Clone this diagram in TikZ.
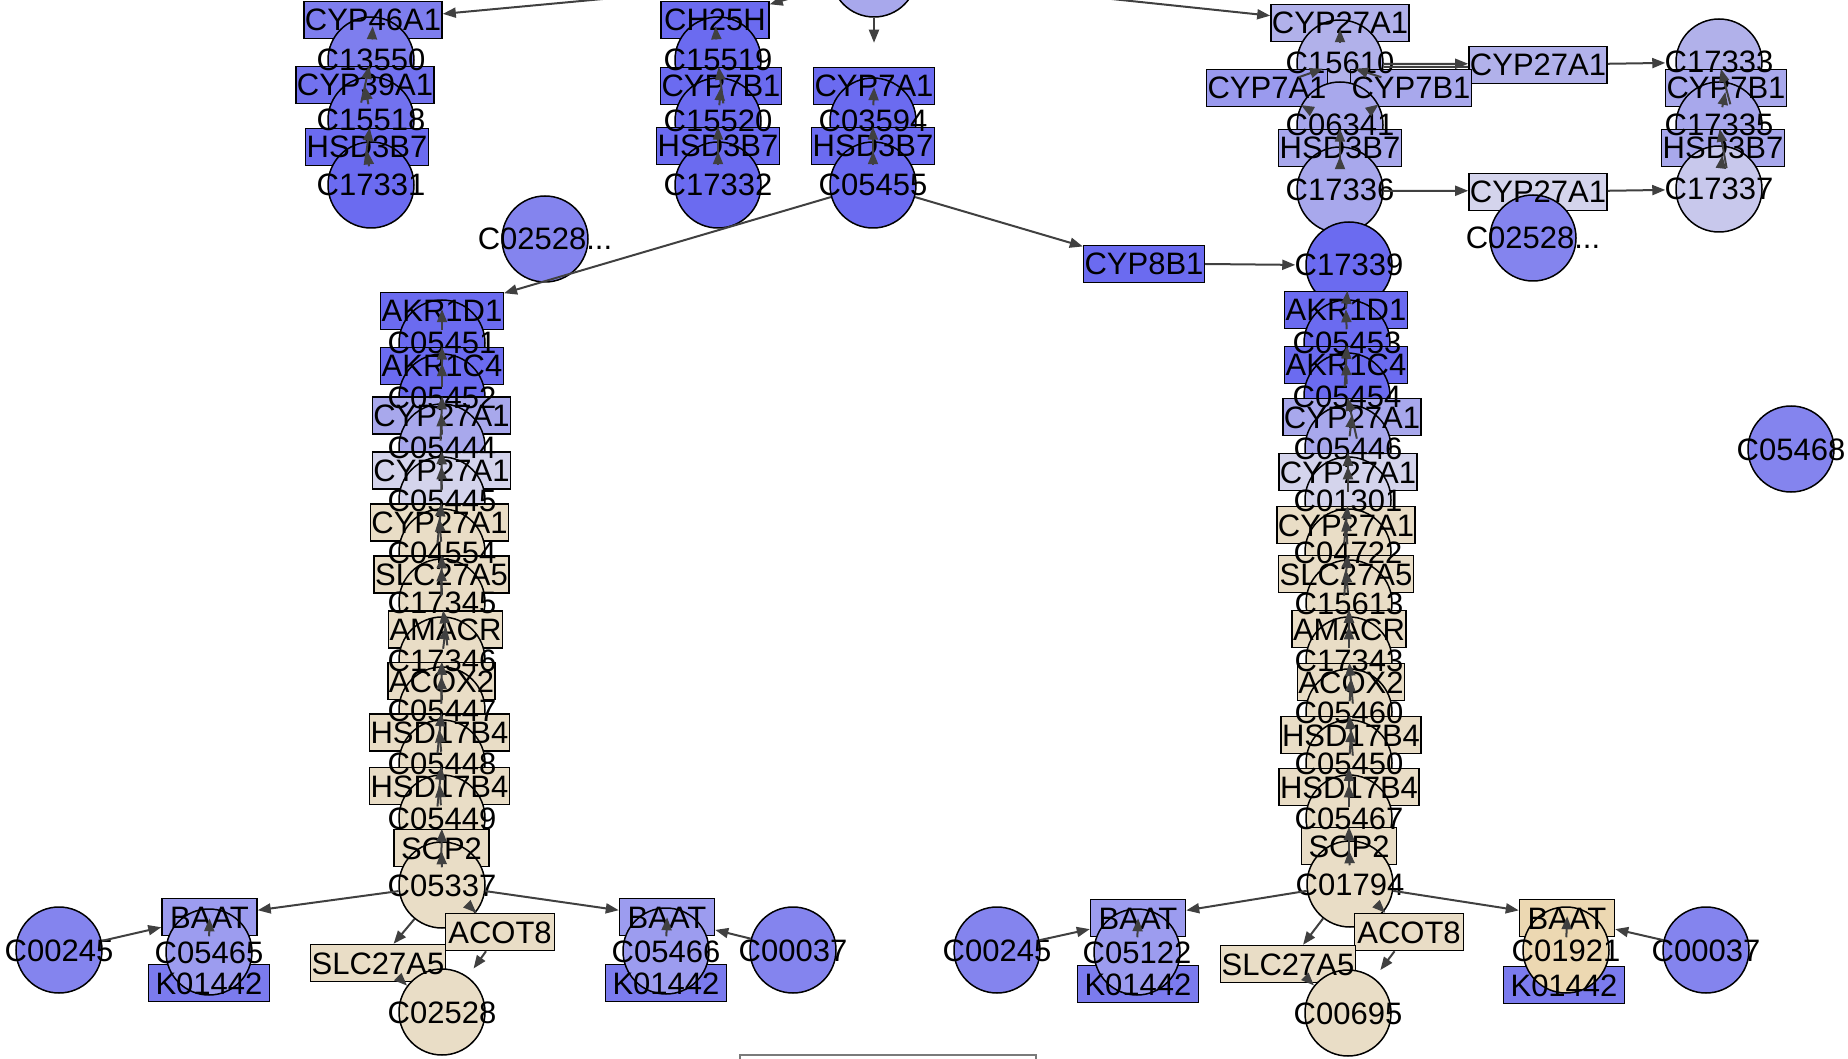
\documentclass[tikz,border=0pt]{standalone}
\usepackage{fontspec}
\setmainfont{Liberation Sans}
\usetikzlibrary{arrows.meta}
\pgfdeclarelayer{shapes}
\pgfdeclarelayer{edges}
\pgfsetlayers{shapes,main,edges}
\definecolor{bA}{HTML}{6B6BF0}
\definecolor{bB}{HTML}{7272EF}
\definecolor{bC}{HTML}{7E7EEE}
\definecolor{bM}{HTML}{8484EE}
\definecolor{bK}{HTML}{7B7BEE}
\definecolor{bT}{HTML}{9C9CEF}
\definecolor{lvA}{HTML}{A8A8EC}
\definecolor{lvB}{HTML}{B1B1EA}
\definecolor{lvC}{HTML}{C8C8EC}
\definecolor{lvD}{HTML}{D4D4EC}
\definecolor{lvE}{HTML}{9A9AEE}
\definecolor{beig}{HTML}{E9DDC6}
\definecolor{beigO}{HTML}{ECD8B2}
\definecolor{edgecol}{HTML}{404040}
\definecolor{legendgray}{HTML}{7A7A7A}
\tikzset{
  every node/.style={font=\fontsize{31pt}{31pt}\selectfont},
  gene/.style={draw=black, line width=1.5pt, rectangle, minimum height=37pt, inner xsep=1pt, inner ysep=0pt, text height=22pt, text depth=0pt},
  cpd/.style={draw=black, line width=1.5pt, circle, minimum size=86pt, inner sep=0pt},
  lbl/.style={inner sep=0pt, text height=22pt, text depth=0pt},
  arr/.style={draw=edgecol, line width=2pt, -{Triangle[length=13pt,width=10pt]}},
  tocpd/.style={arr, shorten >=10pt},
  plainedge/.style={draw=edgecol, line width=2pt},
}
\newcommand\geneNode[6][0pt]{%
  \begin{pgfonlayer}{shapes}\node[gene,fill=#5,minimum width=#1] (#2) at (#3,#4) {\phantom{#6}};\end{pgfonlayer}%
  \node[lbl] (#2-t) at (#3,#4) {#6};}
\newcommand\cpdNode[5]{%
  \begin{pgfonlayer}{shapes}\node[cpd,fill=#4] (#1) at (#2,#3) {};\end{pgfonlayer}%
  \node[lbl] (#1-t) at (#2,#3) {#5};}
% connector: each end on its node's border, in the direction of the other node's centre
\newcommand\edgeFT[3]{%
  \pgfmathanglebetweenpoints{\pgfpointanchor{#2}{center}}{\pgfpointanchor{#3}{center}}%
  \edef\angtmp{\pgfmathresult}%
  \pgfmathtruncatemacro\angA{mod(round(\angtmp),360)}%
  \pgfmathtruncatemacro\angB{mod(\angA+180,360)}%
  \draw[#1] (#2.\angA) -- (#3.\angB);}
\begin{document}
\begin{tikzpicture}[x=1pt,y=-1pt]
\useasboundingbox (0,0) rectangle (1848,1059);

% top centre (cut off)
\begin{pgfonlayer}{shapes}\node[cpd,fill=lvA] (C00187) at (874,-26) {};\end{pgfonlayer}

% left top cluster
\geneNode{CYP46A1}{373}{20}{bC}{CYP46A1}
\cpdNode{C13550}{371}{60}{bC}{C13550}
\geneNode{CYP39A1}{365}{85}{bB}{CYP39A1}
\cpdNode{C15518}{371}{120}{bB}{C15518}
\geneNode{HSD3B7-a}{367}{147}{bA}{HSD3B7}
\cpdNode{C17331}{371}{185}{bA}{C17331}

% middle cluster
\geneNode[108pt]{CH25H}{715}{20}{bA}{CH25H}
\cpdNode{C15519}{718}{60}{bA}{C15519}
\geneNode{CYP7B1-m}{721}{86}{bA}{CYP7B1}
\cpdNode{C15520}{718}{121}{bA}{C15520}
\geneNode{HSD3B7-m}{718}{146}{bA}{HSD3B7}
\cpdNode{C17332}{718}{185}{bA}{C17332}
\geneNode{CYP7A1-m}{874}{86}{bA}{CYP7A1}
\cpdNode{C03594}{873}{121}{bA}{C03594}
\geneNode{HSD3B7-x}{873}{146}{bA}{HSD3B7}
\cpdNode{C05455}{873}{185}{bA}{C05455}
\cpdNode{C02528-a}{545}{239}{bM}{C02528...}

% right top cluster
\geneNode{CYP27A1-t}{1340}{23}{lvB}{CYP27A1}
\cpdNode{C15610}{1340}{63}{lvB}{C15610}
\geneNode{CYP27A1-m}{1538}{65}{lvB}{CYP27A1}
\cpdNode{C17333}{1719}{62}{lvB}{C17333}
\geneNode{CYP7A1-r}{1267}{88}{lvE}{CYP7A1}
\geneNode{CYP7B1-r}{1411}{88}{lvA}{CYP7B1}
\geneNode{CYP7B1-rr}{1726}{88}{lvA}{CYP7B1}
\cpdNode{C06341}{1340}{125}{lvA}{C06341}
\cpdNode{C17335}{1719}{125}{lvA}{C17335}
\geneNode{HSD3B7-r}{1340}{148}{lvA}{HSD3B7}
\geneNode{HSD3B7-rr}{1723}{148}{lvA}{HSD3B7}
\cpdNode{C17336}{1340}{190}{lvA}{C17336}
\geneNode{CYP27A1-l}{1538}{192}{lvD}{CYP27A1}
\cpdNode{C17337}{1719}{189}{lvC}{C17337}
\cpdNode{C02528-r}{1533}{238}{bM}{C02528...}
\geneNode{CYP8B1}{1144}{264}{bA}{CYP8B1}
\cpdNode{C17339}{1349}{265}{bA}{C17339}

% left lower column
\geneNode{AKR1D1-L}{442}{311}{bA}{AKR1D1}
\cpdNode{C05451}{442}{343}{bA}{C05451}
\geneNode{AKR1C4-L}{442}{366}{bA}{AKR1C4}
\cpdNode{C05452}{442}{397}{bA}{C05452}
\geneNode{CYP27A1-La}{441.5}{415.5}{lvA}{CYP27A1}
\cpdNode{C05444}{442}{447}{lvA}{C05444}
\geneNode{CYP27A1-Lb}{441.5}{470.5}{lvD}{CYP27A1}
\cpdNode{C05445}{442}{500}{lvD}{C05445}
\geneNode{CYP27A1-Lc}{439.5}{522.5}{beig}{CYP27A1}
\cpdNode{C04554}{442}{552}{beig}{C04554}
\geneNode{SLC27A5-L}{441.5}{574.5}{beig}{SLC27A5}
\cpdNode{C17345}{442}{602}{beig}{C17345}
\geneNode{AMACR-L}{445.5}{629.5}{beig}{AMACR}
\cpdNode{C17346}{442}{660}{beig}{C17346}
\geneNode{ACOX2-L}{441.5}{681}{beig}{ACOX2}
\cpdNode{C05447}{442}{710}{beig}{C05447}
\geneNode{HSD17B4-La}{439.5}{732.5}{beig}{HSD17B4}
\cpdNode{C05448}{442}{763}{beig}{C05448}
\geneNode{HSD17B4-Lb}{439.5}{786}{beig}{HSD17B4}
\cpdNode{C05449}{442}{818}{beig}{C05449}
\geneNode[95pt]{SCP2-L}{441.5}{848}{beig}{SCP2}
\cpdNode{C05337}{442}{885}{beig}{C05337}

% right lower column
\geneNode{AKR1D1-R}{1346}{310}{bA}{AKR1D1}
\cpdNode{C05453}{1347}{343}{bA}{C05453}
\geneNode{AKR1C4-R}{1346}{365}{bA}{AKR1C4}
\cpdNode{C05454}{1347}{396}{bA}{C05454}
\geneNode{CYP27A1-Ra}{1352}{417}{lvA}{CYP27A1}
\cpdNode{C05446}{1348}{448}{lvA}{C05446}
\geneNode{CYP27A1-Rb}{1348}{472}{lvD}{CYP27A1}
\cpdNode{C01301}{1348}{500}{lvD}{C01301}
\geneNode{CYP27A1-Rc}{1346}{525}{beig}{CYP27A1}
\cpdNode{C04722}{1348}{552}{beig}{C04722}
\geneNode{SLC27A5-R}{1346}{574}{beig}{SLC27A5}
\cpdNode{C15613}{1349}{603}{beig}{C15613}
\geneNode{AMACR-R}{1349}{629}{beig}{AMACR}
\cpdNode{C17343}{1349}{660}{beig}{C17343}
\geneNode{ACOX2-R}{1351}{682}{beig}{ACOX2}
\cpdNode{C05460}{1349}{712}{beig}{C05460}
\geneNode{HSD17B4-Ra}{1351}{735}{beig}{HSD17B4}
\cpdNode{C05450}{1349}{763}{beig}{C05450}
\geneNode{HSD17B4-Rb}{1349}{787}{beig}{HSD17B4}
\cpdNode{C05467}{1349}{818}{beig}{C05467}
\geneNode[95pt]{SCP2-R}{1349}{846}{beig}{SCP2}
\cpdNode{C01794}{1350}{884}{beig}{C01794}

\cpdNode{C05468}{1791}{449}{bM}{C05468}

% bottom left group
\geneNode[95pt]{BAAT-La}{209.5}{917}{bT}{BAAT}
\geneNode[121pt]{K01442-La}{209}{983}{bK}{K01442}
\cpdNode{C05465}{209}{952}{bT}{C05465}
\cpdNode{C00245-a}{59}{950}{bM}{C00245}
\geneNode[95pt]{BAAT-Lb}{667}{917}{bT}{BAAT}
\geneNode[121pt]{K01442-Lb}{666}{983}{bK}{K01442}
\cpdNode{C05466}{666}{951}{bT}{C05466}
\cpdNode{C00037-a}{793}{950}{bM}{C00037}
\geneNode[109pt]{ACOT8-L}{500}{932}{beig}{ACOT8}
\geneNode{SLC27A5-Lx}{378}{963}{beig}{SLC27A5}
\cpdNode{C02528-b}{442}{1012}{beig}{C02528}

% bottom right group
\geneNode[95pt]{BAAT-Ra}{1138}{918}{bT}{BAAT}
\geneNode[121pt]{K01442-Ra}{1138}{984}{bK}{K01442}
\cpdNode{C05122}{1137}{952}{bT}{C05122}
\cpdNode{C00245-b}{997}{950}{bM}{C00245}
\geneNode[95pt]{BAAT-Rb}{1567}{918}{beigO}{BAAT}
\geneNode[121pt]{K01442-Rb}{1564}{985}{bK}{K01442}
\cpdNode{C01921}{1566}{950}{beigO}{C01921}
\cpdNode{C00037-b}{1706}{950}{bM}{C00037}
\geneNode[109pt]{ACOT8-R}{1409}{932}{beig}{ACOT8}
\geneNode{SLC27A5-Rx}{1288}{964}{beig}{SLC27A5}
\cpdNode{C00695}{1348}{1013}{beig}{C00695}

% legend frame (cut off)
\draw[legendgray, line width=2pt] (740,1055) rectangle (1036,1100);

\begin{pgfonlayer}{edges}
% edges ending at genes (and very short ones)
\foreach \a/\b in {
  C00187/CYP46A1, C00187/CH25H, C00187/CYP27A1-t,
  C13550/CYP39A1, C15518/HSD3B7-a,
  C15519/CYP7B1-m, C15520/HSD3B7-m,
  C03594/HSD3B7-x,
  C05455/AKR1D1-L, C05455/CYP8B1, C17339/AKR1D1-R,
  C15610/CYP7A1-r, C15610/CYP7B1-r,
  C06341/HSD3B7-r, C15610/CYP27A1-m,
  C17333/CYP7B1-rr, C17335/HSD3B7-rr,
  C17336/CYP27A1-l,
  C05451/AKR1C4-L, C05452/CYP27A1-La, C05444/CYP27A1-Lb, C05445/CYP27A1-Lc, C04554/SLC27A5-L,
  C17345/AMACR-L, C17346/ACOX2-L, C05447/HSD17B4-La, C05448/HSD17B4-Lb, C05449/SCP2-L,
  C05453/AKR1C4-R, C05454/CYP27A1-Ra, C05446/CYP27A1-Rb, C01301/CYP27A1-Rc, C04722/SLC27A5-R,
  C15613/AMACR-R, C17343/ACOX2-R, C05460/HSD17B4-Ra, C05450/HSD17B4-Rb, C05467/SCP2-R,
  C05337/BAAT-La, C00245-a/BAAT-La, C05337/BAAT-Lb, C00037-a/BAAT-Lb,
  C05337/ACOT8-L, C05337/SLC27A5-Lx,
  C01794/BAAT-Ra, C00245-b/BAAT-Ra, C01794/BAAT-Rb, C00037-b/BAAT-Rb,
  C01794/ACOT8-R, C01794/SLC27A5-Rx,
  CYP7A1-r/C06341, CYP7B1-r/C06341, SLC27A5-Lx/C02528-b, SLC27A5-Rx/C00695}
  {\edgeFT{arr}{\a}{\b}}
% edges ending at compounds
\foreach \a/\b in {
  CYP46A1/C13550, CYP39A1/C15518, HSD3B7-a/C17331,
  CH25H/C15519, CYP7B1-m/C15520, HSD3B7-m/C17332,
  CYP7A1-m/C03594, HSD3B7-x/C05455, CYP8B1/C17339,
  CYP27A1-t/C15610, HSD3B7-r/C17336, CYP27A1-m/C17333, CYP7B1-rr/C17335,
  HSD3B7-rr/C17337, CYP27A1-l/C17337,
  AKR1D1-L/C05451, AKR1C4-L/C05452, CYP27A1-La/C05444, CYP27A1-Lb/C05445, CYP27A1-Lc/C04554,
  SLC27A5-L/C17345, AMACR-L/C17346, ACOX2-L/C05447, HSD17B4-La/C05448, HSD17B4-Lb/C05449, SCP2-L/C05337,
  AKR1D1-R/C05453, AKR1C4-R/C05454, CYP27A1-Ra/C05446, CYP27A1-Rb/C01301, CYP27A1-Rc/C04722,
  SLC27A5-R/C15613, AMACR-R/C17343, ACOX2-R/C05460, HSD17B4-Ra/C05450, HSD17B4-Rb/C05467, SCP2-R/C01794,
  BAAT-La/C05465, BAAT-Lb/C05466, ACOT8-L/C02528-b,
  BAAT-Ra/C05122, BAAT-Rb/C01921, ACOT8-R/C00695}
  {\edgeFT{tocpd}{\a}{\b}}
\edgeFT{arr, shorten >=24pt}{C00187}{CYP7A1-m}
\edgeFT{plainedge, transform canvas={yshift=-3pt}}{C15610}{CYP27A1-m}
\end{pgfonlayer}
\end{tikzpicture}
\end{document}
